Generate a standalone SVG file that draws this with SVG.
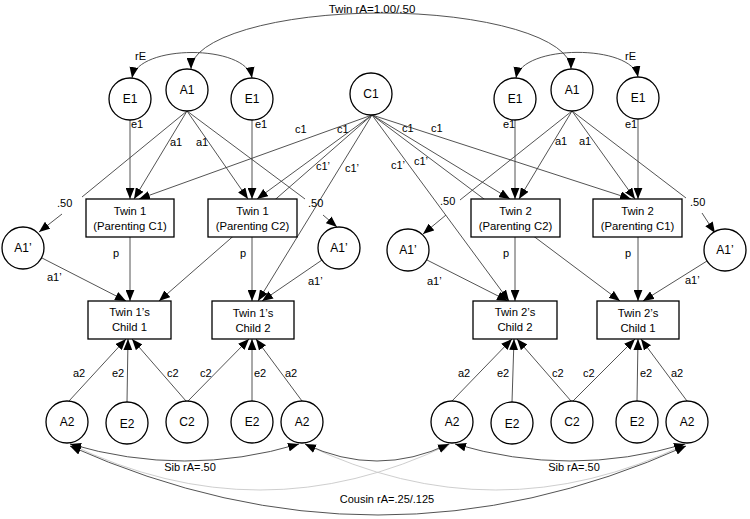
<svg xmlns="http://www.w3.org/2000/svg" width="750" height="519" viewBox="0 0 750 519">
<style>
  .bg{fill:#fff}
  .n circle{fill:#fff;stroke:#000;stroke-width:1.3}
  .n rect{fill:#fff;stroke:#000;stroke-width:1.3}
  .n text{font-family:"Liberation Sans",Arial,sans-serif;font-size:12px;text-anchor:middle;fill:#000}
  .n text.b{font-size:11.3px}
  .c line,.c path{stroke:#404040;stroke-width:0.9;fill:none}
  .c .a{marker-end:url(#ah)}
  .c .d{marker-start:url(#ah);marker-end:url(#ah)}
  .c .g{stroke:#c8c8c8;marker-start:url(#ahg);marker-end:url(#ahg)}
  .lb text{font-family:"Liberation Sans",Arial,sans-serif;font-size:11px;fill:#000}
  .lb text.m{text-anchor:middle;font-size:11px}
</style>
<defs>
  <marker id="ah" viewBox="0 0 10 8" refX="10" refY="4" markerWidth="11" markerHeight="9" markerUnits="userSpaceOnUse" orient="auto-start-reverse">
    <path d="M0,0 L10,4 L0,8 z" fill="#000"/>
  </marker>
  <marker id="ahg" viewBox="0 0 10 8" refX="10" refY="4" markerWidth="9" markerHeight="7" markerUnits="userSpaceOnUse" orient="auto-start-reverse">
    <path d="M0,0 L10,4 L0,8 z" fill="#c8c8c8"/>
  </marker>
</defs>
<rect class="bg" x="0" y="0" width="750" height="519"/>

<g id="connectors" class="c">
  <!-- top correlations -->
  <path class="d" d="M191,69 A190,56 0 0 1 571,69"/>
  <path class="d" d="M132,78 C138,44 246,44 252,78"/>
  <path class="d" d="M516,78 C522,44 632,44 638,77"/>
  <!-- twin 1 parenting -->
  <line class="a" x1="130" y1="120" x2="130" y2="199"/>
  <line class="a" x1="187" y1="111" x2="134" y2="199"/>
  <line class="a" x1="372" y1="115" x2="139" y2="199"/>
  <line class="a" x1="252" y1="120" x2="252" y2="199"/>
  <line class="a" x1="187" y1="111" x2="248" y2="199"/>
  <line class="a" x1="372" y1="115" x2="257" y2="199"/>
  <line x1="187" y1="111" x2="82" y2="197"/>
  <line class="a" x1="62" y1="214" x2="39" y2="232"/>
  <line x1="187" y1="111" x2="305" y2="199"/>
  <line class="a" x1="323" y1="215" x2="337" y2="227"/>
  <line class="a" x1="372" y1="115" x2="159" y2="301"/>
  <line class="a" x1="372" y1="115" x2="258" y2="301"/>
  <line class="a" x1="130" y1="237" x2="130" y2="301"/>
  <line class="a" x1="252" y1="237" x2="252" y2="301"/>
  <line class="a" x1="42" y1="258" x2="126" y2="301"/>
  <line class="a" x1="322" y1="260" x2="262" y2="301"/>
  <!-- twin 2 parenting -->
  <line class="a" x1="515" y1="120" x2="515" y2="199"/>
  <line class="a" x1="572" y1="111" x2="519" y2="199"/>
  <line class="a" x1="372" y1="115" x2="510" y2="199"/>
  <line class="a" x1="638" y1="119" x2="638" y2="199"/>
  <line class="a" x1="572" y1="111" x2="635" y2="199"/>
  <line class="a" x1="372" y1="115" x2="631" y2="199"/>
  <line x1="572" y1="111" x2="460" y2="200"/>
  <line class="a" x1="446" y1="215" x2="423" y2="234"/>
  <line x1="572" y1="111" x2="686" y2="198"/>
  <line class="a" x1="702" y1="213" x2="715" y2="233"/>
  <line class="a" x1="372" y1="115" x2="509" y2="301"/>
  <line class="a" x1="372" y1="115" x2="620" y2="301"/>
  <line class="a" x1="515" y1="237" x2="515" y2="301"/>
  <line class="a" x1="638" y1="237" x2="638" y2="301"/>
  <line class="a" x1="427" y1="260" x2="508" y2="301"/>
  <line class="a" x1="707" y1="261" x2="643" y2="301"/>
  <!-- child ACE -->
  <line class="a" x1="69" y1="401" x2="126" y2="339"/>
  <line class="a" x1="127" y1="402" x2="128" y2="339"/>
  <line class="a" x1="186" y1="401" x2="132" y2="339"/>
  <line class="a" x1="188" y1="401" x2="249" y2="339"/>
  <line class="a" x1="252" y1="401" x2="252" y2="339"/>
  <line class="a" x1="302" y1="401" x2="256" y2="339"/>
  <line class="a" x1="452" y1="401" x2="512" y2="339"/>
  <line class="a" x1="512" y1="402" x2="514" y2="339"/>
  <line class="a" x1="571" y1="401" x2="517" y2="339"/>
  <line class="a" x1="573" y1="401" x2="635" y2="339"/>
  <line class="a" x1="637" y1="401" x2="638" y2="339"/>
  <line class="a" x1="687" y1="401" x2="641" y2="339"/>
  <!-- bottom correlations -->
  <path class="g" d="M70,444 Q260,536 450,444"/>
  <path class="g" d="M305,444 Q496,536 686,444"/>
  <path class="d" d="M70,444 Q185,478 299,444"/>
  <path class="d" d="M305,444 Q377,478 449,444"/>
  <path class="d" d="M455,444 Q570,478 685,444"/>
  <path class="d" d="M70,446 Q378,584 686,446"/>
</g>

<g id="E1_t1a" class="n"><circle cx="130" cy="99" r="21"/><text x="130" y="103">E1</text></g>
<g id="A1_t1" class="n"><circle cx="187" cy="90" r="21"/><text x="187" y="94">A1</text></g>
<g id="E1_t1b" class="n"><circle cx="252" cy="99" r="21"/><text x="252" y="103">E1</text></g>
<g id="C1" class="n"><circle cx="371" cy="94" r="21"/><text x="371" y="98">C1</text></g>
<g id="E1_t2a" class="n"><circle cx="515" cy="99" r="21"/><text x="515" y="103">E1</text></g>
<g id="A1_t2" class="n"><circle cx="572" cy="90" r="21"/><text x="572" y="94">A1</text></g>
<g id="E1_t2b" class="n"><circle cx="638" cy="98" r="21"/><text x="638" y="102">E1</text></g>

<g id="P_t1c1" class="n"><rect x="86" y="199" width="88" height="38"/><text class="b" x="130" y="215">Twin 1</text><text class="b" x="130" y="230">(Parenting C1)</text></g>
<g id="P_t1c2" class="n"><rect x="208" y="199" width="89" height="38"/><text class="b" x="252.5" y="215">Twin 1</text><text class="b" x="252.5" y="230">(Parenting C2)</text></g>
<g id="P_t2c2" class="n"><rect x="471" y="199" width="89" height="38"/><text class="b" x="515.5" y="215">Twin 2</text><text class="b" x="515.5" y="230">(Parenting C2)</text></g>
<g id="P_t2c1" class="n"><rect x="593" y="199" width="89" height="38"/><text class="b" x="637.5" y="215">Twin 2</text><text class="b" x="637.5" y="230">(Parenting C1)</text></g>

<g id="A1p_1" class="n"><circle cx="23" cy="248" r="21"/><text x="23" y="252">A1’</text></g>
<g id="A1p_2" class="n"><circle cx="339" cy="248" r="21"/><text x="339" y="252">A1’</text></g>
<g id="A1p_3" class="n"><circle cx="408" cy="250" r="21"/><text x="408" y="254">A1’</text></g>
<g id="A1p_4" class="n"><circle cx="725" cy="250" r="21"/><text x="725" y="254">A1’</text></g>

<g id="Ch_t1c1" class="n"><rect x="88" y="301" width="83" height="38"/><text class="b" x="129.5" y="316">Twin 1’s</text><text class="b" x="129.5" y="331">Child 1</text></g>
<g id="Ch_t1c2" class="n"><rect x="212" y="301" width="82" height="38"/><text class="b" x="253" y="317">Twin 1’s</text><text class="b" x="253" y="332">Child 2</text></g>
<g id="Ch_t2c2" class="n"><rect x="473" y="301" width="84" height="38"/><text class="b" x="515" y="316">Twin 2’s</text><text class="b" x="515" y="331">Child 2</text></g>
<g id="Ch_t2c1" class="n"><rect x="597" y="301" width="82" height="38"/><text class="b" x="638" y="317">Twin 2’s</text><text class="b" x="638" y="332">Child 1</text></g>

<g id="A2_1" class="n"><circle cx="67" cy="422" r="21"/><text x="67" y="426">A2</text></g>
<g id="E2_1" class="n"><circle cx="127" cy="423" r="21"/><text x="127" y="428">E2</text></g>
<g id="C2_1" class="n"><circle cx="187" cy="422" r="21"/><text x="187" y="426">C2</text></g>
<g id="E2_2" class="n"><circle cx="252" cy="422" r="21"/><text x="252" y="426">E2</text></g>
<g id="A2_2" class="n"><circle cx="302" cy="422" r="21"/><text x="302" y="426">A2</text></g>
<g id="A2_3" class="n"><circle cx="452" cy="422" r="21"/><text x="452" y="426">A2</text></g>
<g id="E2_3" class="n"><circle cx="512" cy="423" r="21"/><text x="512" y="428">E2</text></g>
<g id="C2_2" class="n"><circle cx="572" cy="422" r="21"/><text x="572" y="426">C2</text></g>
<g id="E2_4" class="n"><circle cx="637" cy="422" r="21"/><text x="637" y="426">E2</text></g>
<g id="A2_4" class="n"><circle cx="687" cy="422" r="21"/><text x="687" y="426">A2</text></g>

<g id="labels" class="lb">
  <text class="m" x="372" y="13" style="font-size:11.5px">Twin rA=1.00/.50</text>
  <text x="135" y="60">rE</text>
  <text x="625" y="60">rE</text>
  <text x="131" y="128">e1</text>
  <text x="255" y="128">e1</text>
  <text x="503" y="128">e1</text>
  <text x="625" y="128">e1</text>
  <text x="170" y="146">a1</text>
  <text x="196" y="146">a1</text>
  <text x="555" y="145">a1</text>
  <text x="579" y="145">a1</text>
  <text x="295" y="133">c1</text>
  <text x="337" y="133">c1</text>
  <text x="402" y="132">c1</text>
  <text x="431" y="132">c1</text>
  <text x="316" y="170">c1’</text>
  <text x="345" y="172">c1’</text>
  <text x="391" y="169">c1’</text>
  <text x="414" y="165">c1’</text>
  <text x="57" y="207">.50</text>
  <text x="308" y="207">.50</text>
  <text x="440" y="205">.50</text>
  <text x="690" y="206">.50</text>
  <text x="113" y="257">p</text>
  <text x="240" y="257">p</text>
  <text x="503" y="257">p</text>
  <text x="625" y="257">p</text>
  <text x="47" y="281">a1’</text>
  <text x="308" y="285">a1’</text>
  <text x="427" y="285">a1’</text>
  <text x="685" y="284">a1’</text>
  <text x="73" y="377">a2</text>
  <text x="112" y="377">e2</text>
  <text x="167" y="377">c2</text>
  <text x="200" y="377">c2</text>
  <text x="254" y="377">e2</text>
  <text x="285" y="377">a2</text>
  <text x="458" y="377">a2</text>
  <text x="497" y="377">e2</text>
  <text x="552" y="377">c2</text>
  <text x="583" y="377">c2</text>
  <text x="640" y="377">e2</text>
  <text x="671" y="377">a2</text>
  <text class="m" x="190" y="471">Sib rA=.50</text>
  <text class="m" x="574" y="471">Sib rA=.50</text>
  <text class="m" x="387" y="503">Cousin rA=.25/.125</text>
</g>
</svg>
